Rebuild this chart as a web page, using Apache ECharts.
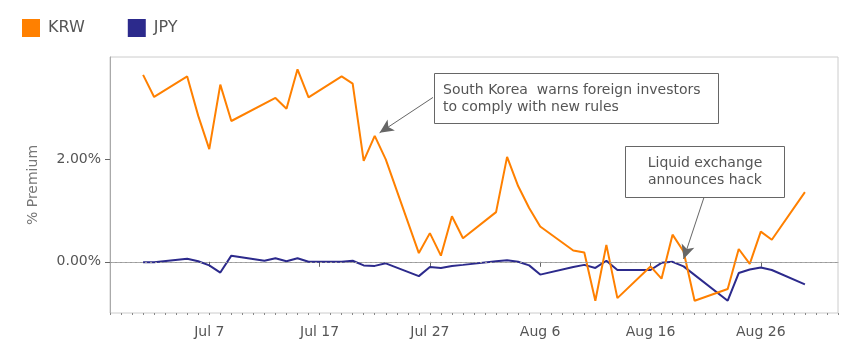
<!DOCTYPE html>
<html>
<head>
<meta charset="utf-8">
<script src="https://cdn.jsdelivr.net/npm/echarts@6/dist/echarts.min.js"></script>
<style>
  html, body { margin: 0; padding: 0; background: #fff; }
  #chart { width: 855px; height: 354px; }
</style>
</head>
<body>
<div id="chart"></div>
<script>
const krwDates = ['2018-07-01', '2018-07-02', '2018-07-05', '2018-07-06', '2018-07-07', '2018-07-08', '2018-07-09',
    '2018-07-13', '2018-07-14', '2018-07-15', '2018-07-16', '2018-07-19', '2018-07-20', '2018-07-21', '2018-07-22',
    '2018-07-23', '2018-07-26', '2018-07-27', '2018-07-28', '2018-07-29', '2018-07-30', '2018-08-02', '2018-08-03',
    '2018-08-04', '2018-08-05', '2018-08-06', '2018-08-09', '2018-08-10', '2018-08-11', '2018-08-12', '2018-08-13',
    '2018-08-16', '2018-08-17', '2018-08-18', '2018-08-19', '2018-08-20', '2018-08-23', '2018-08-24', '2018-08-25',
    '2018-08-26', '2018-08-27', '2018-08-30'];
const krwValues = [3.65, 3.22, 3.62, 2.85, 2.20, 3.46, 2.75,
    3.20, 2.99, 3.76, 3.21, 3.62, 3.48, 1.97, 2.46,
    2.00, 0.17, 0.56, 0.12, 0.89, 0.46, 0.97, 2.05,
    1.48, 1.05, 0.69, 0.22, 0.18, -0.76, 0.33, -0.71,
    -0.09, -0.33, 0.53, 0.20, -0.76, -0.53, 0.25, -0.04,
    0.59, 0.43, 1.36];

const jpyDates = ['2018-07-01', '2018-07-02', '2018-07-05', '2018-07-06', '2018-07-07', '2018-07-08', '2018-07-09',
    '2018-07-12', '2018-07-13', '2018-07-14', '2018-07-15', '2018-07-16', '2018-07-19', '2018-07-20', '2018-07-21',
    '2018-07-22', '2018-07-23', '2018-07-26', '2018-07-27', '2018-07-28', '2018-07-29', '2018-07-30', '2018-08-02',
    '2018-08-03', '2018-08-04', '2018-08-05', '2018-08-06', '2018-08-09', '2018-08-10', '2018-08-11', '2018-08-12',
    '2018-08-13', '2018-08-16', '2018-08-17', '2018-08-18', '2018-08-19', '2018-08-23', '2018-08-24', '2018-08-25',
    '2018-08-26', '2018-08-27', '2018-08-30'];
const jpyValues = [-0.01, -0.01, 0.06, 0.01, -0.07, -0.21, 0.12,
    0.02, 0.07, 0.01, 0.07, 0.00, 0.00, 0.02, -0.07,
    -0.08, -0.03, -0.28, -0.10, -0.12, -0.08, -0.06, 0.01,
    0.03, 0.00, -0.07, -0.25, -0.10, -0.06, -0.12, 0.02,
    -0.16, -0.16, -0.02, 0.00, -0.09, -0.76, -0.22, -0.15,
    -0.11, -0.16, -0.44];

const xTickDates = ['2018-07-07', '2018-07-17', '2018-07-27', '2018-08-06', '2018-08-16', '2018-08-26'];
const yTickValues = [0, 2];

const DAY = 86400000;
const MONTHS = ['Jan', 'Feb', 'Mar', 'Apr', 'May', 'Jun', 'Jul', 'Aug', 'Sep', 'Oct', 'Nov', 'Dec'];
const ms = s => Date.UTC(+s.slice(0, 4), +s.slice(5, 7) - 1, +s.slice(8, 10));
const fmtDate = v => { const d = new Date(v); return MONTHS[d.getUTCMonth()] + ' ' + d.getUTCDate(); };

const xMin = ms('2018-06-28');
const xMax = ms('2018-09-02');
const jul7 = ms('2018-07-07');

const FONT = 'DejaVu Sans';
const GREY = '#666';

const option = {
    animation: false,
    textStyle: { fontFamily: FONT },
    legend: {
        left: 22,
        top: 19,
        padding: 0,
        itemWidth: 18,
        itemHeight: 18,
        itemGap: 43,
        icon: 'rect',
        textStyle: { fontSize: 16, color: '#555', fontFamily: FONT, padding: [0, 0, 0, 3] },
        data: ['KRW', 'JPY']
    },
    grid: {
        left: 110, right: 17, top: 57, bottom: 41,
        show: true, borderColor: '#ccc', borderWidth: 1, backgroundColor: '#fff'
    },
    xAxis: [
        {
            type: 'value', position: 'bottom',
            min: xMin, max: xMax,
            axisLine: { lineStyle: { color: '#aaa' } },
            axisTick: { length: 5, lineStyle: { color: GREY }, customValues: xTickDates.map(ms) },
            axisLabel: {
                margin: 12, fontSize: 14, color: '#555', fontFamily: FONT,
                customValues: xTickDates.map(ms), formatter: fmtDate
            },
            splitLine: { show: false }
        },
        {
            type: 'value', position: 'bottom',
            min: xMin, max: xMax, interval: DAY,
            axisLine: { show: false },
            axisTick: { length: 2, lineStyle: { color: '#888' } },
            axisLabel: { show: false },
            splitLine: { show: false }
        }
    ],
    yAxis: {
        type: 'value',
        min: -1, max: 4, interval: 1,
        name: '% Premium',
        nameLocation: 'middle',
        nameGap: 70,
        nameTextStyle: { fontSize: 14, color: '#777', fontFamily: FONT },
        axisLine: { show: true, lineStyle: { color: '#aaa' } },
        axisTick: { show: true, length: 5, lineStyle: { color: GREY }, customValues: yTickValues },
        axisLabel: {
            margin: 9, fontSize: 14, color: '#555', fontFamily: FONT,
            customValues: yTickValues, formatter: v => v.toFixed(2) + '%'
        },
        splitLine: { show: false }
    },
    series: [
        {
            name: 'KRW', type: 'line',
            data: krwDates.map((d, i) => [ms(d), krwValues[i]]),
            showSymbol: false, symbol: 'none',
            color: '#ff8000',
            lineStyle: { width: 2, color: '#ff8000' },
            markLine: {
                silent: true,
                symbol: ['none', 'arrow'],
                symbolSize: [10, 14],
                label: { show: false },
                lineStyle: { color: '#666', width: 1, type: 'solid' },
                data: [
                    [{ coord: [jul7 + 20.28 * DAY, 3.21] }, { coord: [jul7 + 15.44 * DAY, 2.52] }],
                    [{ coord: [jul7 + 44.87 * DAY, 1.27] }, { coord: [jul7 + 43.0 * DAY, 0.055] }]
                ]
            }
        },
        {
            name: 'JPY', type: 'line',
            data: jpyDates.map((d, i) => [ms(d), jpyValues[i]]),
            showSymbol: false, symbol: 'none',
            color: '#2c2a8c',
            lineStyle: { width: 2, color: '#2c2a8c' },
            z: 1,
            markLine: {
                silent: true,
                symbol: 'none',
                label: { show: false },
                lineStyle: { color: '#999', width: 1, type: [2, 3] },
                data: [{ yAxis: 0 }]
            }
        }
    ],
    graphic: [
        {
            type: 'rect', z: 100,
            shape: { x: 434.5, y: 73.5, width: 284, height: 50 },
            style: { fill: '#fff', stroke: '#666', lineWidth: 1 }
        },
        {
            type: 'text', z: 101, x: 443, y: 82,
            style: {
                text: 'South Korea  warns foreign investors\nto comply with new rules',
                font: '14px "DejaVu Sans"', fill: '#555', lineHeight: 17
            }
        },
        {
            type: 'rect', z: 100,
            shape: { x: 625.5, y: 146.5, width: 159, height: 51 },
            style: { fill: '#fff', stroke: '#666', lineWidth: 1 }
        },
        {
            type: 'text', z: 101, x: 705, y: 155,
            style: {
                text: 'Liquid exchange\nannounces hack',
                font: '14px "DejaVu Sans"', fill: '#555', lineHeight: 17, align: 'center'
            }
        }
    ]
};

const chart = echarts.init(document.getElementById('chart'));
chart.setOption(option);
</script>
</body>
</html>
